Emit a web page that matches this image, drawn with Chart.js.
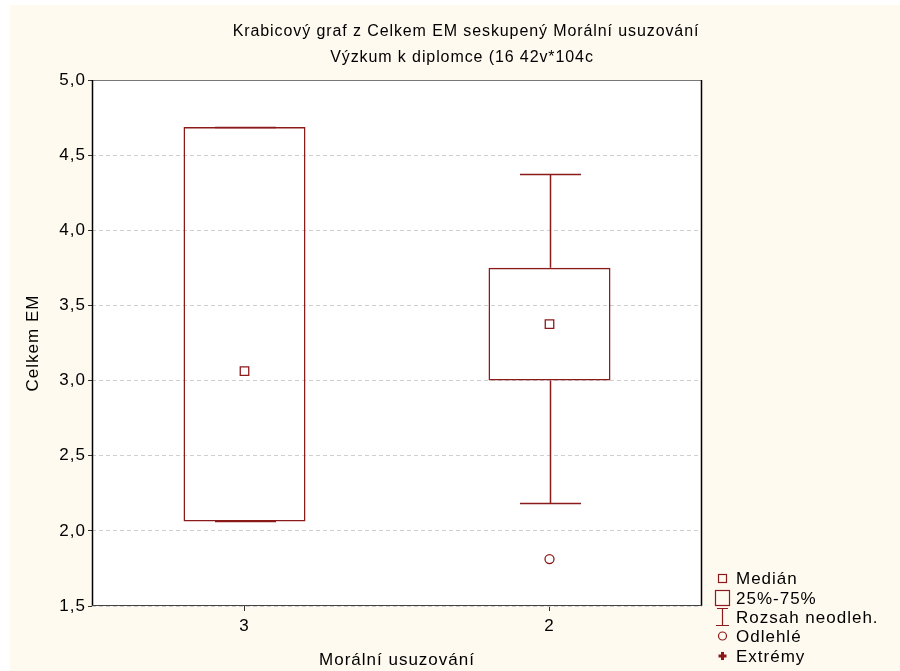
<!DOCTYPE html>
<html>
<head>
<meta charset="utf-8">
<title>Krabicový graf</title>
<script src="https://cdn.jsdelivr.net/npm/chart.js@4.4.1/dist/chart.umd.min.js"></script>
<style>
  html, body { margin: 0; padding: 0; background: #fff; }
  canvas { display: block; }
</style>
</head>
<body>
<canvas id="boxChart" width="900" height="671"></canvas>
<script>
'use strict';

// data
const categories = ['3', '2'];
const q1 = [2.0625, 3.0];
const q3 = [4.6875, 3.75];
const medians = [3.0625, 3.375];
const whiskerLow = [2.0625, 2.1875];
const whiskerHigh = [4.6875, 4.375];
const outliers = [null, 1.8125];
const yTicks = [1.5, 2.0, 2.5, 3.0, 3.5, 4.0, 4.5, 5.0];

const titleLines = ['Krabicový graf z Celkem EM seskupený Morální usuzování', 'Výzkum k diplomce (16 42v*104c'];
const legendItems = ['Medián', '25%-75%', 'Rozsah neodleh.', 'Odlehlé', 'Extrémy'];

const RED = '#8b1a1a';
const CREAM = '#fffaf0';
const FONT = '"Liberation Sans", Arial, sans-serif';

// background, plot frame, whiskers, title and legend
const boxPlugin = {
  id: 'boxPlugin',
  beforeDraw(chart) {
    const { ctx, chartArea: a } = chart;
    // wide glyph spacing like the original export, kept for the axis texts
    ctx.letterSpacing = '1px';
    ctx.save();
    ctx.fillStyle = '#fff';
    ctx.fillRect(0, 0, chart.width, chart.height);
    ctx.fillStyle = CREAM;
    ctx.fillRect(10, 5, chart.width - 10, chart.height - 5);
    ctx.fillStyle = '#fff';
    ctx.fillRect(a.left, a.top, a.right - a.left, a.bottom - a.top);
    ctx.restore();
  },
  afterDatasetsDraw(chart) {
    const { ctx } = chart;
    const x = chart.scales.x, y = chart.scales.y;
    const bars = chart.getDatasetMeta(0).data;
    ctx.save();
    ctx.strokeStyle = RED;
    ctx.lineWidth = 1.5;
    categories.forEach((c, i) => {
      const cx = Math.round(x.getPixelForValue(i)) + 0.5;
      const half = bars[i].width / 4;
      const lo = Math.round(y.getPixelForValue(whiskerLow[i])) + 0.5;
      const hi = Math.round(y.getPixelForValue(whiskerHigh[i])) + 0.5;
      const b1 = y.getPixelForValue(q1[i]);
      const b3 = y.getPixelForValue(q3[i]);
      ctx.beginPath();
      ctx.moveTo(cx, lo); ctx.lineTo(cx, b1);
      ctx.moveTo(cx, b3); ctx.lineTo(cx, hi);
      ctx.moveTo(cx - half, lo); ctx.lineTo(cx + half, lo);
      ctx.moveTo(cx - half, hi); ctx.lineTo(cx + half, hi);
      ctx.stroke();
    });
    ctx.restore();
  },
  afterDraw(chart) {
    const { ctx, chartArea: a } = chart;
    ctx.save();
    // frame
    ctx.lineWidth = 1;
    ctx.strokeStyle = '#777';
    ctx.beginPath(); ctx.moveTo(a.left, a.top + 0.5); ctx.lineTo(a.right, a.top + 0.5); ctx.stroke();
    ctx.strokeStyle = '#000';
    ctx.lineWidth = 1.5;
    ctx.beginPath();
    ctx.moveTo(a.left + 0.5, a.top); ctx.lineTo(a.left + 0.5, a.bottom);
    ctx.moveTo(a.right - 0.5, a.top); ctx.lineTo(a.right - 0.5, a.bottom);
    ctx.stroke();
    ctx.lineWidth = 1;
    ctx.strokeStyle = '#444';
    ctx.beginPath(); ctx.moveTo(a.left, a.bottom - 0.5); ctx.lineTo(a.right, a.bottom - 0.5); ctx.stroke();

    // title
    ctx.fillStyle = '#000';
    ctx.font = '16px ' + FONT;
    ctx.letterSpacing = '0.9px';
    ctx.textAlign = 'center';
    ctx.textBaseline = 'middle';
    ctx.fillText(titleLines[0], 466, 32);
    ctx.fillText(titleLines[1], 462, 58);

    // legend
    const lx = 722, tx = 736;
    const ly = [578, 598, 617, 636, 656];
    ctx.textAlign = 'left';
    ctx.font = '17px ' + FONT;
    ctx.letterSpacing = '1px';
    legendItems.forEach((t, i) => ctx.fillText(t, tx, ly[i] + 1));
    ctx.strokeStyle = RED;
    ctx.fillStyle = RED;
    ctx.lineWidth = 1.2;
    ctx.strokeRect(lx - 3.5, ly[0] - 3.5, 8, 8);
    ctx.strokeRect(lx - 6.5, ly[1] - 7.5, 14, 15);
    ctx.beginPath();
    ctx.moveTo(lx - 5, ly[2] - 8.5); ctx.lineTo(lx + 6, ly[2] - 8.5);
    ctx.moveTo(lx + 0.5, ly[2] - 8.5); ctx.lineTo(lx + 0.5, ly[2] + 8.5);
    ctx.moveTo(lx - 6, ly[2] + 8.5); ctx.lineTo(lx + 7, ly[2] + 8.5);
    ctx.stroke();
    ctx.beginPath(); ctx.arc(lx + 0.5, ly[3], 4, 0, Math.PI * 2); ctx.stroke();
    ctx.fillRect(lx - 1, ly[4] - 4, 3, 8);
    ctx.fillRect(lx - 3.5, ly[4] - 1.5, 8, 3);
    ctx.restore();
  }
};

new Chart(document.getElementById('boxChart'), {
  data: {
    labels: categories,
    datasets: [
      {
        type: 'bar',
        label: '25%-75%',
        data: categories.map((c, i) => [q1[i], q3[i]]),
        backgroundColor: 'rgba(255,255,255,0)',
        borderColor: RED,
        borderWidth: 1.5,
        borderSkipped: false,
        barPercentage: 0.4,
        categoryPercentage: 1.0
      },
      {
        type: 'line',
        label: 'Medián',
        data: medians,
        showLine: false,
        pointStyle: 'rect',
        pointRadius: 6,
        pointBorderWidth: 1.3,
        pointBorderColor: RED,
        pointBackgroundColor: 'rgba(255,255,255,0)'
      },
      {
        type: 'line',
        label: 'Odlehlé',
        data: outliers,
        showLine: false,
        pointStyle: 'circle',
        pointRadius: 4.5,
        pointBorderWidth: 1.3,
        pointBorderColor: RED,
        pointBackgroundColor: 'rgba(255,255,255,0)'
      }
    ]
  },
  options: {
    responsive: false,
    animation: false,
    layout: { padding: { top: 80, right: 198, left: 0, bottom: 0 } },
    plugins: {
      legend: { display: false },
      title: { display: false },
      tooltip: { enabled: false }
    },
    scales: {
      x: {
        type: 'category',
        offset: true,
        grid: { offset: false, drawOnChartArea: false, drawTicks: true, tickLength: 5, tickColor: '#333' },
        border: { display: false },
        ticks: { color: '#000', font: { family: FONT, size: 17 }, padding: 5 },
        title: { display: true, text: 'Morální usuzování', color: '#000', font: { family: FONT, size: 17 }, padding: { top: 5, bottom: 0 } },
        afterFit(scale) { scale.height = 65; }
      },
      y: {
        min: 1.5,
        max: 5.0,
        afterBuildTicks(scale) { scale.ticks = yTicks.map(v => ({ value: v })); },
        grid: { color: '#cfcfcf', drawTicks: true, tickLength: 4, tickColor: '#333', tickBorderDash: [] },
        border: { display: false, dash: [4, 3] },
        ticks: {
          color: '#000',
          font: { family: FONT, size: 17 },
          padding: 2,
          callback: v => v.toFixed(1).replace('.', ',')
        },
        title: { display: true, text: 'Celkem EM', color: '#000', font: { family: FONT, size: 17 }, padding: { top: 23, bottom: 0 } },
        afterFit(scale) { scale.width = 92; }
      }
    }
  },
  plugins: [boxPlugin]
});
</script>
</body>
</html>
